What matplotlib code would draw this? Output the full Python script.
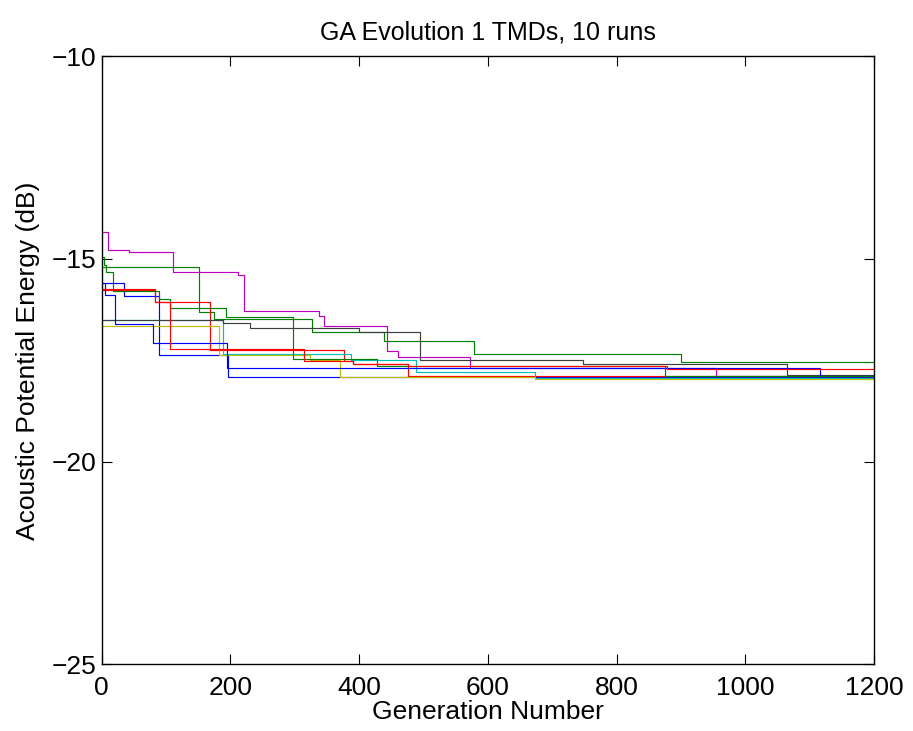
import numpy as np
import matplotlib
matplotlib.use("Agg")
import matplotlib.pyplot as plt

# step points of each GA run: generation where best value changes, and the value (dB)
blue1_gen = [0, 34, 89, 197]
blue1_val = [-15.60, -15.91, -17.36, -17.90]

green1_gen = [0, 151, 175, 326, 439, 578, 900]
green1_val = [-15.19, -16.30, -16.48, -16.80, -17.02, -17.35, -17.53]

red1_gen = [0, 83, 169, 377, 390, 476]
red1_val = [-15.76, -16.07, -17.25, -17.51, -17.58, -17.88]

cyan_gen = [0, 188, 388, 489, 674]
cyan_val = [-16.50, -17.35, -17.49, -17.78, -17.94]

magenta_gen = [0, 9, 43, 110, 211, 221, 337, 345, 443, 461, 572, 955]
magenta_val = [-14.34, -14.78, -14.83, -15.33, -15.39, -16.29, -16.40, -16.66,
               -17.27, -17.41, -17.69, -17.88]

yellow_gen = [0, 182, 323, 370, 674]
yellow_val = [-16.66, -17.36, -17.48, -17.90, -17.95]

black_gen = [0, 189, 230, 290, 399, 495, 748, 1065]
black_val = [-16.50, -16.58, -16.69, -16.71, -16.81, -17.48, -17.58, -17.86]

blue2_gen = [0, 5, 21, 80, 194, 1116]
blue2_val = [-15.60, -15.88, -16.61, -17.07, -17.69, -17.88]

green2_gen = [0, 4, 7, 18, 89, 106, 193, 298, 427, 876]
green2_val = [-14.96, -15.15, -15.31, -15.80, -15.98, -16.21, -16.44, -17.46, -17.64, -17.88]

red2_gen = [0, 83, 106, 315, 390, 476, 878]
red2_val = [-15.74, -16.05, -17.22, -17.51, -17.58, -17.65, -17.72]

n_gen = 1200

# matlab style colour order
runs = [
    (blue1_gen, blue1_val, (0, 0, 1)),
    (green1_gen, green1_val, (0, 0.5, 0)),
    (red1_gen, red1_val, (1, 0, 0)),
    (cyan_gen, cyan_val, (0, 0.75, 0.75)),
    (magenta_gen, magenta_val, (0.75, 0, 0.75)),
    (yellow_gen, yellow_val, (0.75, 0.75, 0)),
    (black_gen, black_val, (0.25, 0.25, 0.25)),
    (blue2_gen, blue2_val, (0, 0, 1)),
    (green2_gen, green2_val, (0, 0.5, 0)),
    (red2_gen, red2_val, (1, 0, 0)),
]

plt.rcParams['font.family'] = ['Liberation Sans', 'DejaVu Sans']

fig = plt.figure(figsize=(9.13, 7.31), dpi=100)
ax = fig.add_axes([0.1114, 0.0911, 0.8459, 0.8319])

for gen, val, col in runs:
    x = np.append(gen, n_gen)
    y = np.append(val, val[-1])
    ax.step(x, y, where='post', color=col, linewidth=0.85)

ax.set_xlim(0, 1200)
ax.set_ylim(-25, -10)
ax.set_xticks(np.arange(0, 1201, 200))
ax.set_yticks([-25, -20, -15, -10])
ax.tick_params(direction='in', top=True, right=True, length=7, width=0.8,
               labelsize=19)
ax.tick_params(axis='x', pad=8)
ax.tick_params(axis='y', pad=4)
for sp in ax.spines.values():
    sp.set_linewidth(1.0)

ax.set_title("GA Evolution 1 TMDs, 10 runs", fontsize=18, pad=12)
ax.set_xlabel("Generation Number", fontsize=19, labelpad=0)
ax.set_ylabel("Acoustic Potential Energy (dB)", fontsize=19, labelpad=8)

fig.savefig("out.png", dpi=100)
